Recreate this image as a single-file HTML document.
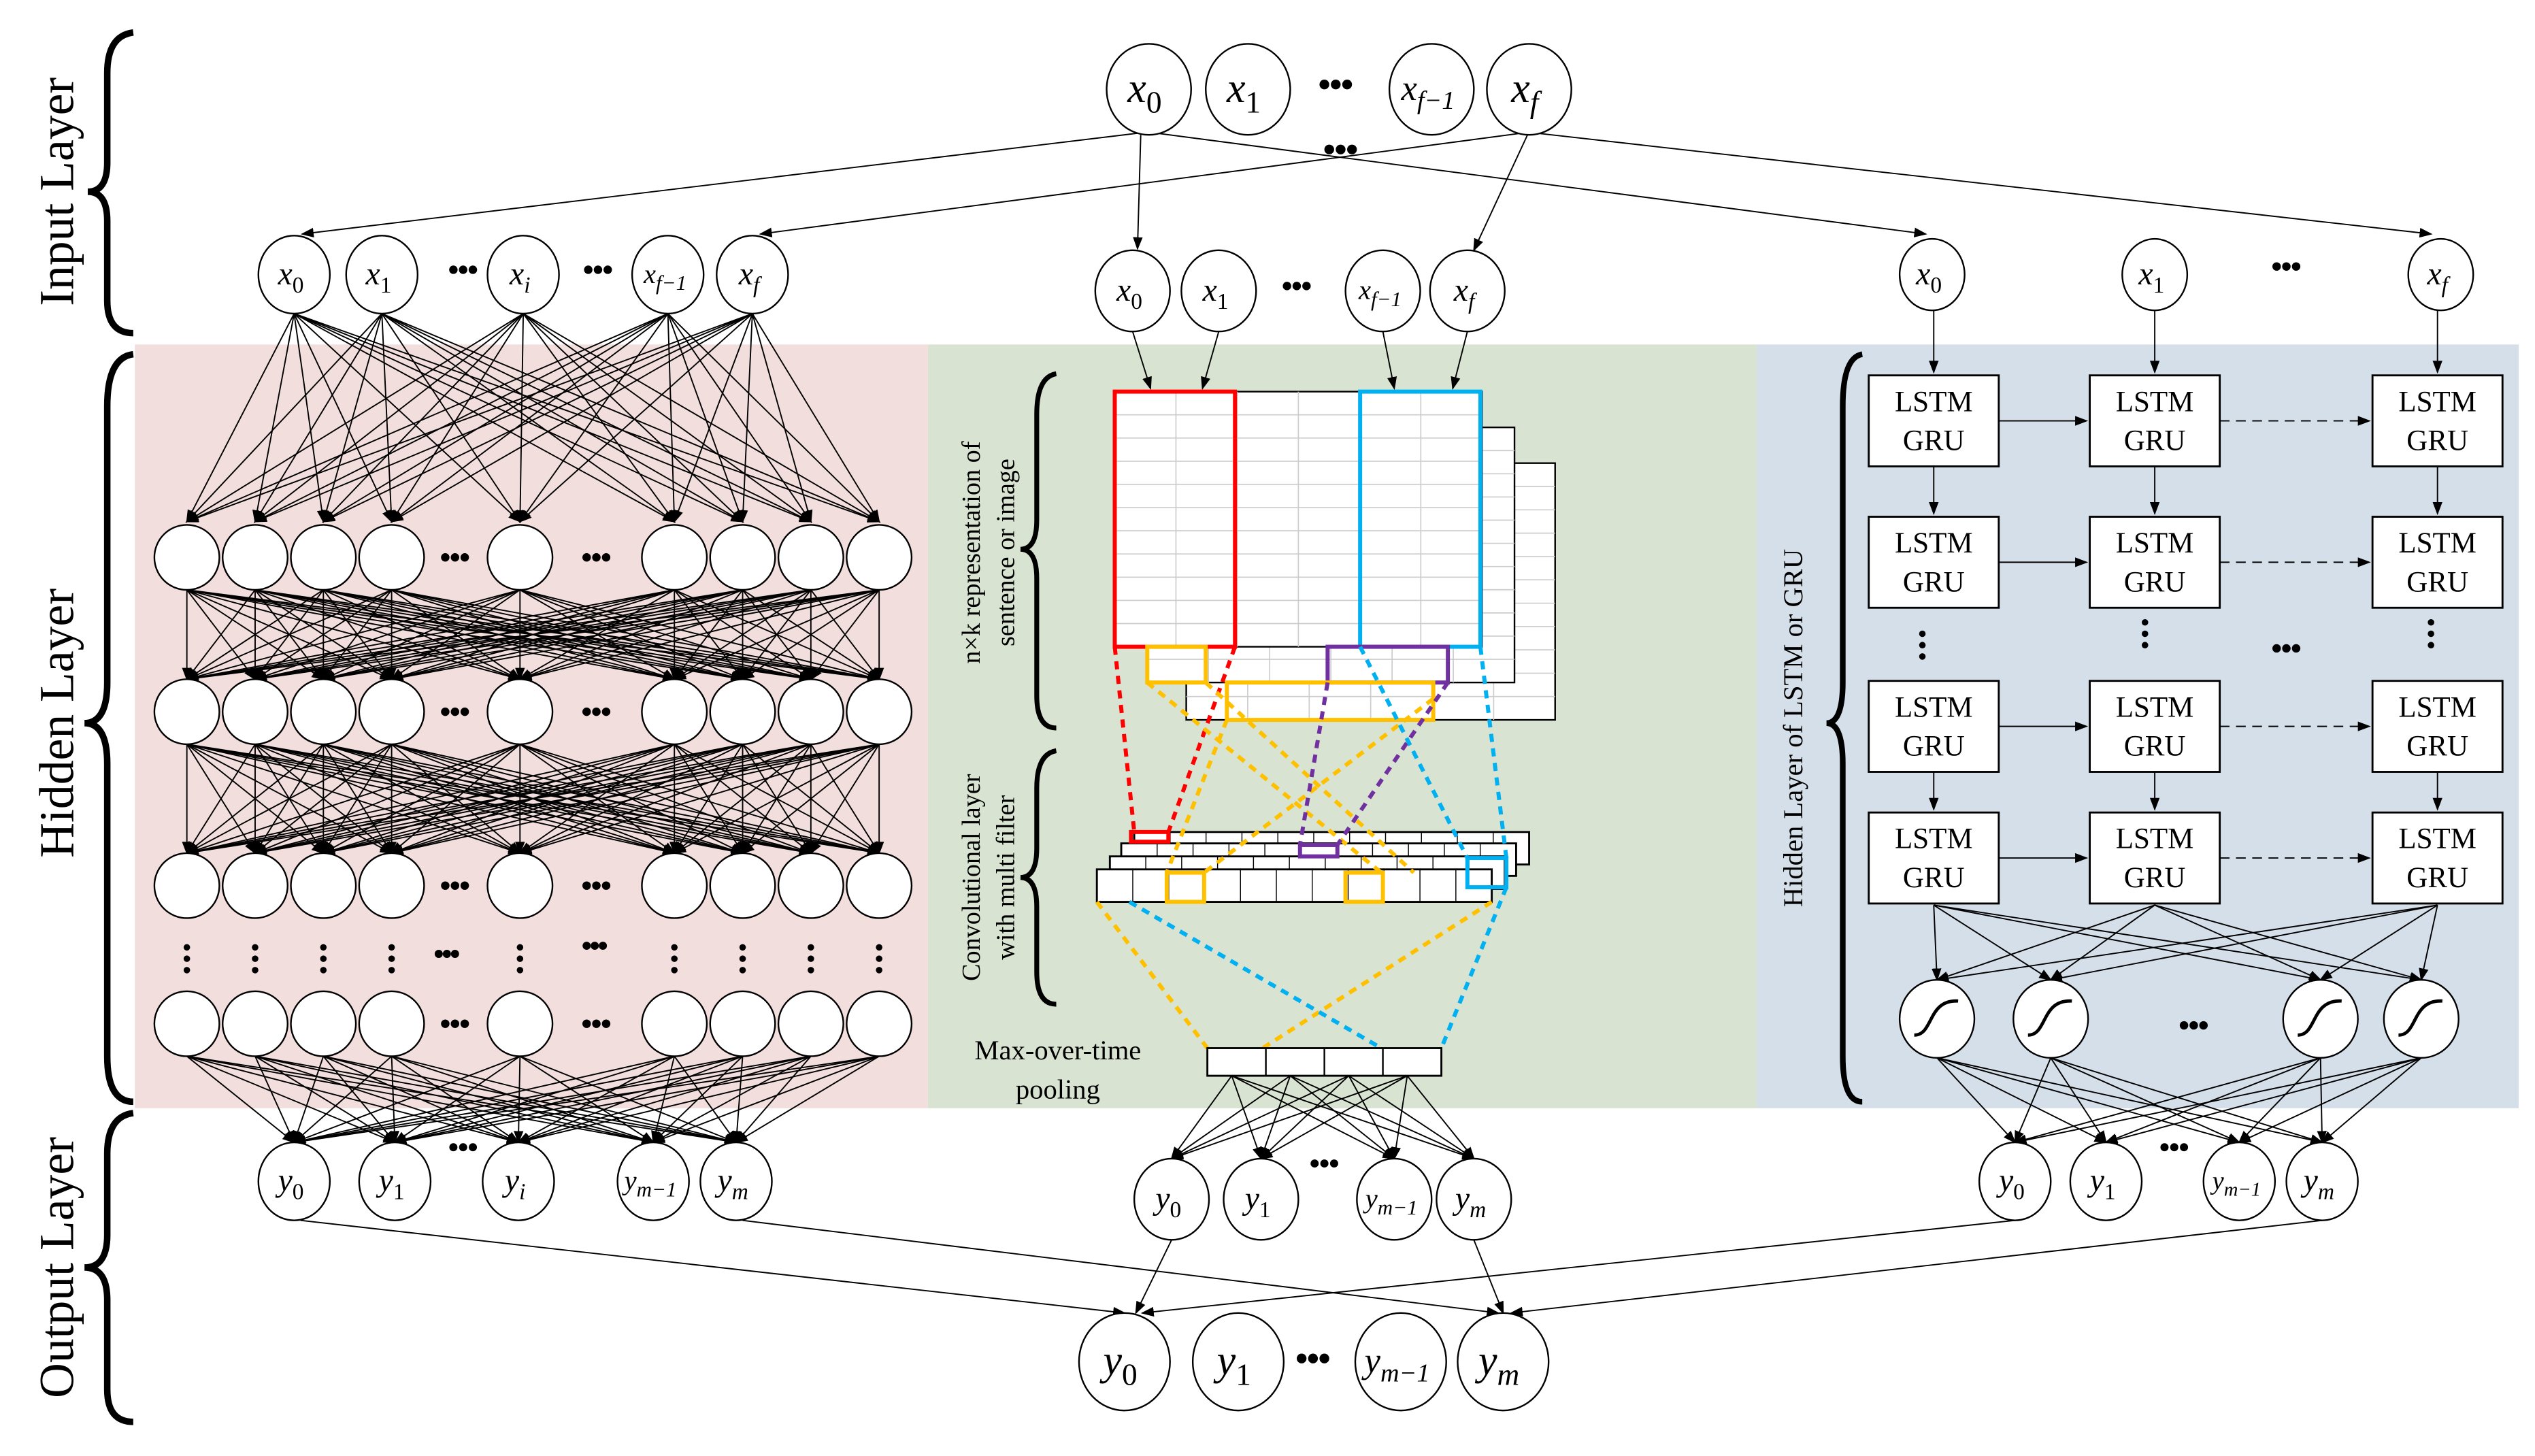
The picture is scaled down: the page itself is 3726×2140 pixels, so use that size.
<!DOCTYPE html>
<html><head><meta charset="utf-8"><style>
html,body{margin:0;padding:0;background:#fff;}
svg{display:block;}
text{font-family:"Liberation Serif",serif;}
</style></head><body>
<svg id="g" width="3726" height="2140" viewBox="0 0 1560 896" preserveAspectRatio="none" xmlns="http://www.w3.org/2000/svg">
<defs>
<marker id="a" markerWidth="8" markerHeight="8" refX="7" refY="4" orient="auto" markerUnits="userSpaceOnUse"><path d="M0,1 L8,4 L0,7 z" fill="#000"/></marker>
</defs>
<rect x="83" y="212" width="488" height="470" fill="#f2dfdd"/>
<rect x="571" y="212" width="510" height="470" fill="#d9e3d1"/>
<rect x="1081" y="212" width="469" height="470" fill="#d5dfe9"/>
<g id="lines" stroke="#000" stroke-width="0.8" fill="none"></g>
<g id="cnn"></g>
<g id="shapes"></g>

<g fill="none" stroke="#000" stroke-width="4">
<path d="M82,20 Q66,22 66,45 L66,100 Q66,118 54,118 Q66,118 66,136 L66,185 Q66,205 82,205"/>
<path d="M82,218 Q66,220 66,250 L66,420 Q66,445 52,445 Q66,445 66,470 L66,650 Q66,678 82,678"/>
<path d="M82,685 Q66,687 66,710 L66,760 Q66,780 52,780 Q66,780 66,800 L66,855 Q66,875 82,875"/>
<path d="M650,230 Q638,232 638,255 L638,320 Q638,338 628,338 Q638,338 638,356 L638,428 Q638,448 650,448" stroke-width="3"/>
<path d="M650,462 Q638,464 638,485 L638,522 Q638,540 628,540 Q638,540 638,558 L638,598 Q638,618 650,618" stroke-width="3"/>
<path d="M1146,218 Q1134,220 1134,250 L1134,420 Q1134,445 1124,445 Q1134,445 1134,470 L1134,650 Q1134,678 1146,678" stroke-width="3.5"/>
</g>
<text transform="translate(45,118) rotate(-90)" text-anchor="middle" font-size="30">Input Layer</text>
<text transform="translate(45,445) rotate(-90)" text-anchor="middle" font-size="30">Hidden Layer</text>
<text transform="translate(45,780) rotate(-90)" text-anchor="middle" font-size="30">Output Layer</text>
<text transform="translate(603,340) rotate(-90)" text-anchor="middle" font-size="16">n×k representation of</text>
<text transform="translate(624,340) rotate(-90)" text-anchor="middle" font-size="16">sentence or image</text>
<text transform="translate(603,540) rotate(-90)" text-anchor="middle" font-size="16">Convolutional layer</text>
<text transform="translate(624,540) rotate(-90)" text-anchor="middle" font-size="16">with multi filter</text>
<text transform="translate(1109,448) rotate(-90)" text-anchor="middle" font-size="17">Hidden Layer of LSTM or GRU</text>
<text x="651" y="652" text-anchor="middle" font-size="17">Max-over-time</text>
<text x="651" y="676" text-anchor="middle" font-size="17">pooling</text>
<g id="labels"></g>
</svg>
<script>
(function(){
var NS="http://www.w3.org/2000/svg";
function el(p,t,a){var e=document.createElementNS(NS,t);for(var k in a)e.setAttribute(k,a[k]);document.getElementById(p).appendChild(e);return e;}
function ln(x1,y1,x2,y2,arr,extra){var a={x1:x1,y1:y1,x2:x2,y2:y2};if(arr)a['marker-end']='url(#a)';if(extra)for(var k in extra)a[k]=extra[k];return el('lines','line',a);}
function circ(cx,cy,rx,ry){el('shapes','ellipse',{cx:cx,cy:cy,rx:rx,ry:ry,fill:'#fff',stroke:'#000','stroke-width':1});}
function dots(cx,cy,r,gap){for(var i=-1;i<=1;i++)el('shapes','circle',{cx:cx+i*gap,cy:cy,r:r,fill:'#000'});}
function vdots(cx,cy){for(var i=-1;i<=1;i++)el('shapes','circle',{cx:cx,cy:cy+i*7,r:2,fill:'#000'});}
function lab(cx,cy,base,sub,size,subsz,subital){
 var t=el('labels','text',{x:cx-size*0.1,y:cy+size*0.3,'text-anchor':'middle','font-size':size,'font-style':'italic'});
 t.appendChild(document.createTextNode(base));
 var s=document.createElementNS(NS,'tspan');s.setAttribute('font-size',subsz);s.setAttribute('dy',size*0.25);s.setAttribute('font-style',subital?'italic':'normal');s.textContent=sub;t.appendChild(s);}
var topIn=[707,768,881,941];
topIn.forEach(function(x){circ(x,55,26,28);});
dots(822,52,3,7);dots(825,92,3,7);
var Lin=[181,235,322,411,463];
Lin.forEach(function(x){circ(x,169,22,24);});dots(285,166,2.6,6);dots(368,166,2.6,6);
ln(700,82,186,144,1);ln(702,83,700,153,1);ln(712,82,1185,144,1);
ln(936,82,468,144,1);ln(940,83,907,154,1);ln(946,82,1496,144,1);
var HX=[115,157,199,241,320,415,457,499,541],HY=[343,438,545,630];
Lin.forEach(function(x){HX.forEach(function(h){ln(x,193,h,321,1);});});
for(var r=0;r<2;r++)HX.forEach(function(a){HX.forEach(function(b){ln(a,HY[r]+20,b,HY[r+1]-20,1);});});
var LO=[181,243,319,402,453];
HX.forEach(function(a){LO.forEach(function(b){ln(a,650,b,703,1);});});
HY.forEach(function(y){HX.forEach(function(x){circ(x,y,20,20);});dots(280,y,2.6,6);dots(367,y,2.6,6);});
[115,157,199,241,320,457,499,541,415].forEach(function(x){vdots(x,590);});
dots(275,587,2.5,5);dots(366,582,2.5,5);
LO.forEach(function(x){circ(x,727,22,24);});dots(285,706,2.5,6);
var Min=[697,750,851,903];Min.forEach(function(x){circ(x,179,23,25);});dots(798,176,2.6,6);
ln(697,204,708,239,1);ln(750,204,740,239,1);ln(851,204,858,239,1);ln(903,204,894,239,1);
var c=document.getElementById('cnn');
function rc(x,y,w,h,st,sw,fill){var e=document.createElementNS(NS,'rect');e.setAttribute('x',x);e.setAttribute('y',y);e.setAttribute('width',w);e.setAttribute('height',h);e.setAttribute('fill',fill||'none');e.setAttribute('stroke',st);e.setAttribute('stroke-width',sw);c.appendChild(e);}
function cl(x1,y1,x2,y2,st,sw,dash){var e=document.createElementNS(NS,'line');e.setAttribute('x1',x1);e.setAttribute('y1',y1);e.setAttribute('x2',x2);e.setAttribute('y2',y2);e.setAttribute('stroke',st);e.setAttribute('stroke-width',sw);if(dash)e.setAttribute('stroke-dasharray',dash);c.appendChild(e);}
function sheet(x,y,w,h){rc(x,y,w,h,'#000',1,'#fff');for(var i=1;i<6;i++)cl(x+w*i/6,y,x+w*i/6,y+h,'#ccc',0.7);for(var j=1;j<11;j++)cl(x,y+h*j/11,x+w,y+h*j/11,'#ccc',0.7);}
sheet(730,285,227,158);sheet(706,263,226,157);sheet(686,241,226,157);
rc(686,241,74,157,'#f00',2.5);rc(837,241,74,157,'#00b0f0',2.5);
rc(706,398,36,22,'#ffc000',2.5);rc(817,398,74,22,'#7030a0',2.5);
rc(755,420,127,23,'#ffc000',2.5);
function bar(x,y,w,h){rc(x,y,w,h,'#000',1.2,'#fff');for(var i=1;i<11;i++)cl(x+w*i/11,y,x+w*i/11,y+h,'#000',0.6);}
bar(698,512,243,20);bar(690,519,243,20);bar(683,527,243,20);bar(675,535,243,20);
rc(718,537,23,18,'#ffc000',2.5);rc(828,537,23,18,'#ffc000',2.5);
rc(696,512,23,6,'#f00',2.5);rc(800,520,23,7,'#7030a0',2.5);rc(903,528,24,18,'#00b0f0',2.5);
var D='5,4';
cl(686,398,698,512,'#f00',2.5,D);cl(760,398,719,512,'#f00',2.5,D);
cl(706,420,850,537,'#ffc000',2.5,D);cl(742,420,870,537,'#ffc000',2.5,D);
cl(755,443,718,537,'#ffc000',2.5,D);cl(882,430,741,537,'#ffc000',2.5,D);
cl(817,420,800,520,'#7030a0',2.5,D);cl(891,420,823,520,'#7030a0',2.5,D);
cl(837,398,903,528,'#00b0f0',2.5,D);cl(911,398,927,528,'#00b0f0',2.5,D);
cl(675,555,743,645,'#ffc000',2.5,D);cl(918,555,777,645,'#ffc000',2.5,D);
cl(695,555,850,645,'#00b0f0',2.5,D);cl(927,546,887,645,'#00b0f0',2.5,D);
rc(743,645,144,17,'#000',1.2,'#fff');[779,815,851].forEach(function(x){cl(x,645,x,662,'#000',1);});
var MO=[721,776,858,907];
[758,794,830,866].forEach(function(a){MO.forEach(function(b){ln(a,662,b,713,1);});});
MO.forEach(function(x){circ(x,738,23,25);});dots(815,716,2.5,6);
ln(185,751,692,808,1);ln(457,751,922,808,1);ln(721,763,699,808,1);ln(907,763,925,808,1);
ln(1240,751,703,808,1);ln(1429,751,930,808,1);
var BO=[692,762,862,925];BO.forEach(function(x){circ(x,838,28,30);});dots(808,836,3,7);
var RC=[1190,1326,1500],RY=[231,318,419,500];
[1189,1326,1502].forEach(function(x){circ(x,169,20,22);});dots(1407,164,2.6,6);
RC.forEach(function(x){ln(x,191,x,229,1);ln(x,287,x,316,1);ln(x,475,x,498,1);});
RY.forEach(function(y){ln(1230,y+28,1284,y+28,1);ln(1366,y+28,1458,y+28,1,{'stroke-dasharray':'6,4'});});
RY.forEach(function(y){RC.forEach(function(x){el('shapes','rect',{x:x-40,y:y,width:80,height:56,fill:'#fff',stroke:'#000','stroke-width':1.2});
 var t=el('labels','text',{x:x,y:y+22,'text-anchor':'middle','font-size':18});t.textContent='LSTM';
 var t2=el('labels','text',{x:x,y:y+46,'text-anchor':'middle','font-size':18});t2.textContent='GRU';});});
vdots(1183,397);vdots(1320,390);vdots(1496,390);dots(1407,399,2.6,6);
var SG=[1192,1262,1428,1490];
RC.forEach(function(a){SG.forEach(function(b){ln(a,557,b,603,1);});});
SG.forEach(function(x){circ(x,627,23,24);el('shapes','path',{d:'M'+(x-14)+',637 C'+(x-2)+',637 '+(x-6)+',615 '+(x+13)+',616',fill:'none',stroke:'#000','stroke-width':2});});
dots(1350,631,2.6,6);
var RO=[1240,1296,1378,1429];
SG.forEach(function(a){RO.forEach(function(b){ln(a,651,b,703,1);});});
RO.forEach(function(x){circ(x,727,22,24);});dots(1338,706,2.5,6);
function T(x,y,b,s,sz,ss,si){lab(x,y,b,s,sz,ss,si);}
T(707,55,'x','0',26,19,0);T(768,55,'x','1',26,19,0);T(881,55,'x','f−1',22,16,1);T(941,55,'x','f',26,19,1);
T(181,169,'x','0',20,14,0);T(235,169,'x','1',20,14,0);T(322,169,'x','i',20,14,1);T(411,169,'x','f−1',17,13,1);T(463,169,'x','f',20,14,1);
T(697,179,'x','0',20,14,0);T(750,179,'x','1',20,14,0);T(851,179,'x','f−1',17,13,1);T(903,179,'x','f',20,14,1);
T(1189,169,'x','0',20,14,0);T(1326,169,'x','1',20,14,0);T(1502,169,'x','f',20,14,1);
T(181,727,'y','0',20,14,0);T(243,727,'y','1',20,14,0);T(319,727,'y','i',20,14,1);T(402,727,'y','m−1',17,13,1);T(453,727,'y','m',20,14,1);
T(721,738,'y','0',20,14,0);T(776,738,'y','1',20,14,0);T(858,738,'y','m−1',17,13,1);T(907,738,'y','m',20,14,1);
T(1240,727,'y','0',20,14,0);T(1296,727,'y','1',20,14,0);T(1378,727,'y','m−1',16,12,1);T(1429,727,'y','m',20,14,1);
T(692,838,'y','0',26,19,0);T(762,838,'y','1',26,19,0);T(862,838,'y','m−1',22,16,1);T(925,838,'y','m',26,19,1);
})();
</script>
</body></html>
